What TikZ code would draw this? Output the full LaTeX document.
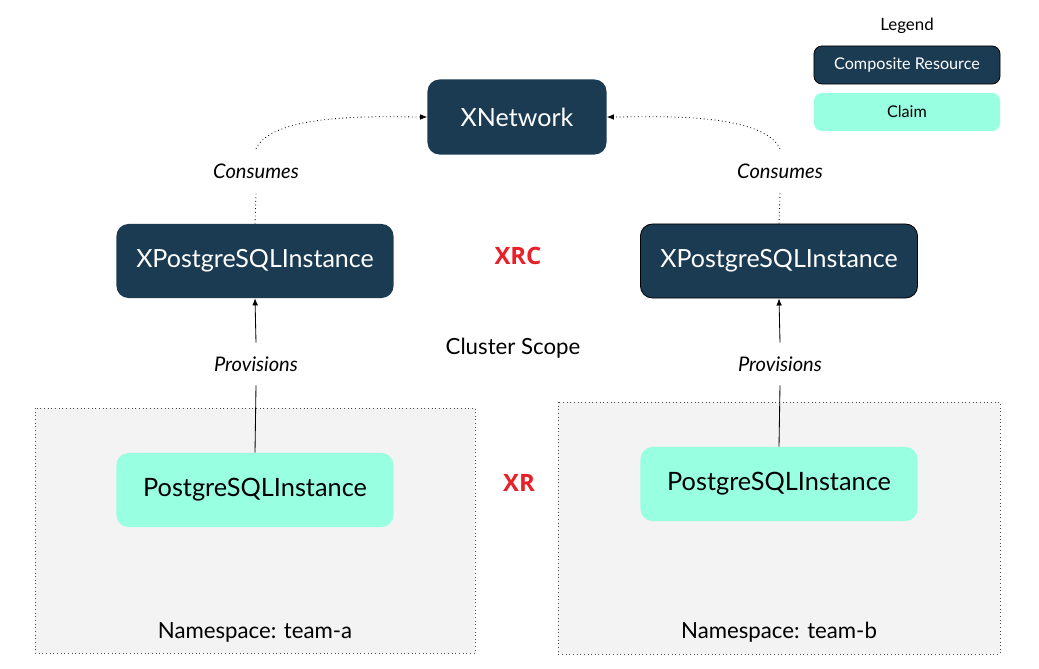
\documentclass[tikz,border=0pt]{standalone}
\usepackage{fontspec}
\setmainfont{Lato}
\newfontfamily\xrfont{Open Sans}
\usetikzlibrary{arrows.meta}
\definecolor{navy}{HTML}{1B3B53}
\definecolor{mint}{HTML}{98FFE0}
\definecolor{nsgray}{HTML}{F3F3F3}
\definecolor{xred}{HTML}{E8202A}
\tikzset{
  xres/.style={fill=navy, text=white, rounded corners=0.3cm, minimum width=6.925cm, minimum height=1.85cm, font=\fontsize{17.8}{20}\selectfont},
  claim/.style={fill=mint, text=black, rounded corners=0.3cm, minimum width=6.925cm, minimum height=1.85cm, font=\fontsize{18}{20}\selectfont},
  verb/.style={font=\fontsize{14.3}{16}\selectfont\itshape, minimum height=1.1cm},
  tag/.style={text=xred, font=\xrfont\bfseries\fontsize{17}{19}\selectfont},
  plain/.style={font=\fontsize{15.8}{18}\selectfont},
  ns/.style={fill=nsgray, draw=black!70, dotted, line width=0.6pt},
  uses/.style={dotted, line width=0.6pt, -{Latex[length=5pt,width=4pt]}},
  prov/.style={line width=0.6pt, -{Latex[length=5pt,width=4pt]}},
  key/.style={rounded corners=0.2cm, minimum width=4.65cm, minimum height=0.95cm, font=\fontsize{11.5}{13}\selectfont}
}
\begin{document}
\begin{tikzpicture}[x=0.025cm,y=-0.025cm]
\fill[white] (0,0) rectangle (1039,669);
\useasboundingbox (0,0) rectangle (1039,669);
% namespaces
\draw[ns] (35,408) rectangle (475,653);
\draw[ns] (558,402) rectangle (1000,654);
\node[plain] (nsa) at (255,632) {Namespace: team-a};
\node[plain] (nsb) at (779,632) {Namespace: team-b};
% resources
\node[xres, minimum width=4.475cm, minimum height=1.875cm] (xnet) at (517,117) {XNetwork};
\node[xres] (xpga) at (255,261) {XPostgreSQLInstance};
\node[xres, draw=black, line width=0.6pt] (xpgb) at (779,261) {XPostgreSQLInstance};
\node[claim] (pga) at (255,490) {PostgreSQLInstance};
\node[claim] (pgb) at (779,484) {PostgreSQLInstance};
\node[tag] (xrc) at (518,256) {XRC};
\node[tag] (xr) at (519,483) {XR};
\node[plain] (scope) at (513,348) {Cluster Scope};
% labels
\node[verb] (consa) at (256,171) {Consumes};
\node[verb] (consb) at (780,171) {Consumes};
\node[verb, minimum height=1.05cm] (prova) at (256,364) {Provisions};
\node[verb, minimum height=1.05cm] (provb) at (780,364) {Provisions};
% connectors
\draw[dotted, line width=0.6pt] (xpga.north) -- (consa.south);
\draw[uses] (consa.north) to[out=65,in=180,looseness=0.6] (xnet.west);
\draw[dotted, line width=0.6pt] (xpgb.north) -- (consb.south);
\draw[uses] (consb.north) to[out=115,in=0,looseness=0.6] (xnet.east);
\draw[line width=0.6pt] (pga.north) -- (prova.south);
\draw[prov] (prova.north) -- (xpga.south);
\draw[line width=0.6pt] (pgb.north) -- (provb.south);
\draw[prov] (provb.north) -- (xpgb.south);
% legend
\node[font=\fontsize{12}{14}\selectfont] (legend) at (907,26) {Legend};
\node[key, fill=navy, draw=black, line width=0.6pt, text=white] (kxr) at (907,65) {Composite Resource};
\node[key, fill=mint] (kclaim) at (907,112) {Claim};
\end{tikzpicture}
\end{document}
